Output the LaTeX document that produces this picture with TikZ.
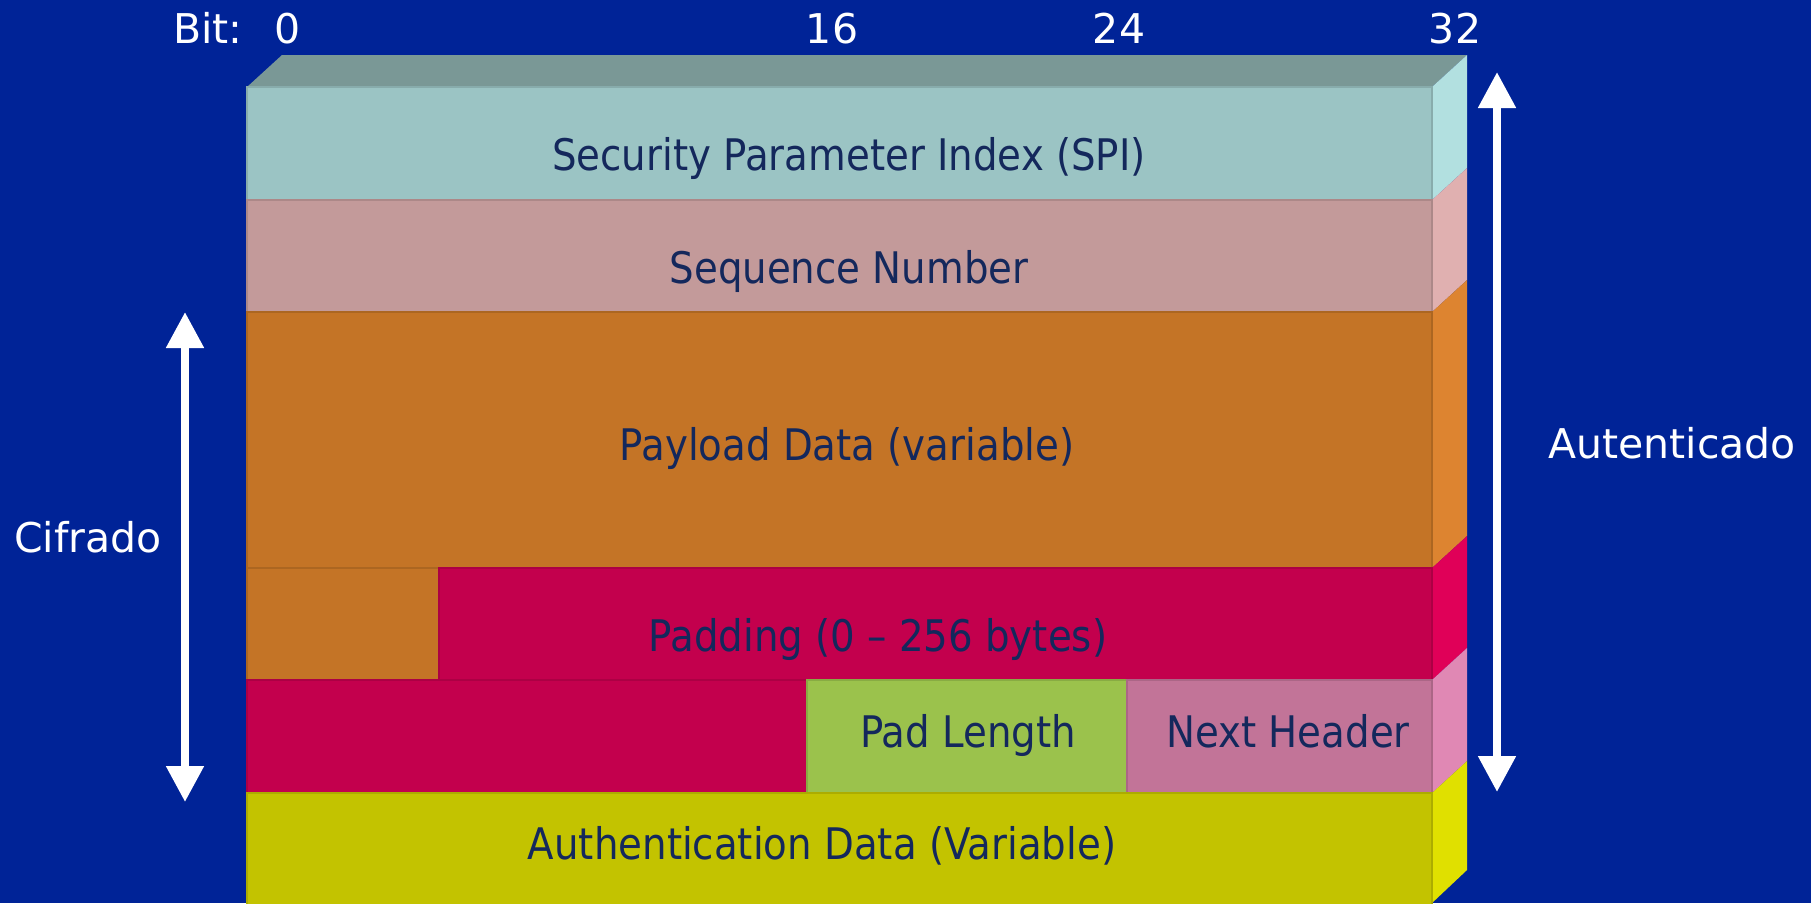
\documentclass[tikz,border=0pt]{standalone}
\usepackage{fontspec}
\setmainfont{DejaVu Sans}
\newfontfamily\fieldfont[FakeStretch=0.89]{DejaVu Sans}
\usetikzlibrary{arrows.meta}
\definecolor{bg}{HTML}{002397}
\definecolor{topface}{HTML}{7A9896}
\definecolor{spiF}{HTML}{9BC4C4}
\definecolor{spiS}{HTML}{B2E0E0}
\definecolor{seqF}{HTML}{C39A9A}
\definecolor{seqS}{HTML}{E0B0B0}
\definecolor{payF}{HTML}{C47426}
\definecolor{payS}{HTML}{DD8430}
\definecolor{padF}{HTML}{C3004D}
\definecolor{padS}{HTML}{E00058}
\definecolor{plenF}{HTML}{9BC24C}
\definecolor{nhF}{HTML}{C27498}
\definecolor{nhS}{HTML}{E088B4}
\definecolor{authF}{HTML}{C3C300}
\definecolor{authS}{HTML}{E0E000}
\definecolor{navy}{HTML}{14285C}
\begin{document}
\begin{tikzpicture}[x=1pt,y=-1pt,
  field/.style={fill=#1, draw=#1!88!black, line width=1.5pt},
  ftext/.style={text=navy, inner sep=0pt, anchor=base, font=\fieldfont\fontsize{43.5}{52}\selectfont},
  wtext/.style={text=white, inner sep=0pt, anchor=base, font=\fontsize{41}{49}\selectfont},
  bothway/.style={white, line width=8pt,
    {Triangle[width=36pt,length=36pt]}-{Triangle[width=36pt,length=36pt]}}]
\fill[bg] (0,0) rectangle (1811,903);
\useasboundingbox (0,0) rectangle (1811,903);
% top face
\fill[topface] (247,87) -- (282,55) -- (1467,55) -- (1432,87) -- cycle;
% side faces
\fill[spiS]  (1432,87)  -- (1467,55)  -- (1467,168) -- (1432,200) -- cycle;
\fill[seqS]  (1432,200) -- (1467,168) -- (1467,280) -- (1432,312) -- cycle;
\fill[payS]  (1432,312) -- (1467,280) -- (1467,536) -- (1432,568) -- cycle;
\fill[padS]  (1432,568) -- (1467,536) -- (1467,648) -- (1432,680) -- cycle;
\fill[nhS]   (1432,680) -- (1467,648) -- (1467,761) -- (1432,793) -- cycle;
\fill[authS] (1432,793) -- (1467,761) -- (1467,870) -- (1432,903) -- cycle;
% front fields
\draw[field=spiF]  (247,87)  rectangle (1432,200);
\draw[field=seqF]  (247,200) rectangle (1432,312);
\draw[field=payF]  (247,312) rectangle (1432,568);
\draw[field=payF]  (247,568) rectangle (439,680);
\draw[field=padF]  (439,568) rectangle (1432,680);
\draw[field=padF]  (247,680) rectangle (807,793);
\draw[field=plenF] (807,680) rectangle (1127,793);
\draw[field=nhF]   (1127,680) rectangle (1432,793);
\draw[field=authF] (247,793) rectangle (1432,905);
% field texts
\node[ftext] (spi)  at (849,170) {Security Parameter Index (SPI)};
\node[ftext] (seq)  at (849,283) {Sequence Number};
\node[ftext] (pay)  at (847,460) {Payload Data (variable)};
\node[ftext] (pad)  at (878,651) {Padding (0 – 256 bytes)};
\node[ftext] (plen) at (968,747) {Pad Length};
\node[ftext] (nh)   at (1288,747) {Next Header};
\node[ftext] (auth) at (822,859) {Authentication Data (Variable)};
% bit labels
\node[wtext] (bit) at (208,43) {Bit:};
\node[wtext] (b0)  at (288,43) {0};
\node[wtext] (b16) at (832,43) {16};
\node[wtext] (b24) at (1119,43) {24};
\node[wtext] (b32) at (1455,43) {32};
% arrows
\coordinate (ctop) at (185,312);
\coordinate (cbot) at (185,802);
\draw[bothway] (ctop) -- (cbot);
\node[wtext] (cif) at (88,552) {Cifrado};
\coordinate (atop) at (1497,72);
\coordinate (abot) at (1497,792);
\draw[bothway] (atop) -- (abot);
\node[wtext] (aut) at (1672,458) {Autenticado};
\end{tikzpicture}
\end{document}
